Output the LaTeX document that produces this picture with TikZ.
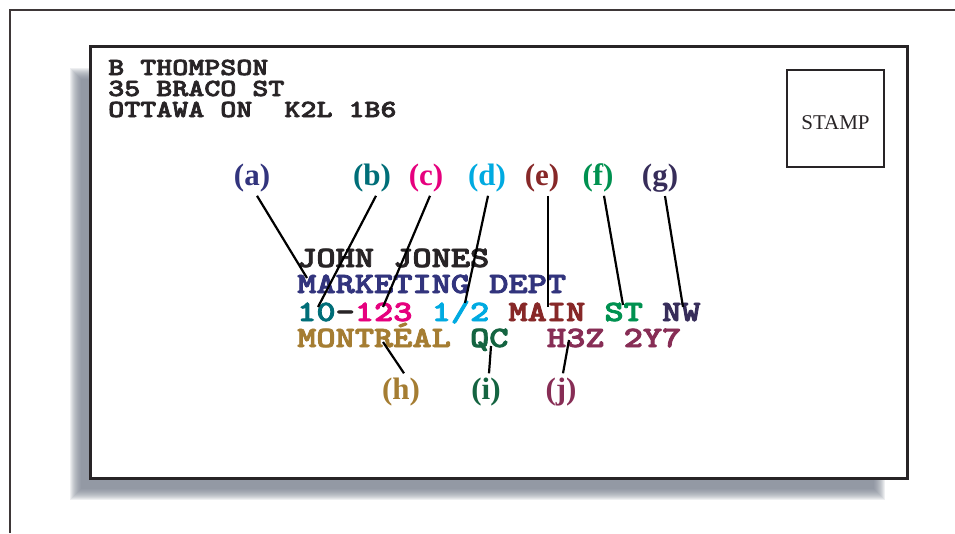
\documentclass[tikz,border=0pt]{standalone}
\usepackage{xcolor}
\usepackage{fontspec}
\setmainfont{Liberation Serif}
\newfontfamily\addrfont{lmmonolt10-bold}[Extension=.otf, FakeBold=2.5]
\usepackage{tikz}
\usetikzlibrary{positioning}

\definecolor{inkdark}{RGB}{40,36,38}
\definecolor{framegray}{RGB}{62,55,56}
\definecolor{shadowgray}{RGB}{118,126,140}
\definecolor{cA}{RGB}{50,52,125}
\definecolor{cB}{RGB}{0,110,120}
\definecolor{cC}{RGB}{230,0,126}
\definecolor{cD}{RGB}{0,170,225}
\definecolor{cE}{RGB}{135,40,40}
\definecolor{cF}{RGB}{0,145,80}
\definecolor{cG}{RGB}{55,45,90}
\definecolor{cH}{RGB}{165,125,50}
\definecolor{cI}{RGB}{20,100,65}
\definecolor{cJ}{RGB}{135,45,85}

\begin{document}
\begin{tikzpicture}[x=1pt, y=-1pt,
    frame/.style={draw=framegray, line width=2.5pt},
    envelope/.style={draw=inkdark, line width=3pt, fill=white},
    shade/.style={fill=shadowgray, opacity=0.12},
    stampbox/.style={draw=inkdark, line width=2pt, minimum width=97pt, minimum height=97pt, text height=22pt, text depth=0pt, text=inkdark, font=\fontsize{21}{21}\selectfont},
    retaddr/.style={anchor=base west, inner sep=0pt, xscale=1.24, text=inkdark, font=\addrfont\fontsize{24.6}{24.6}\selectfont},
    rcpt/.style={anchor=base west, inner sep=0pt, xscale=1.24, text=inkdark, font=\addrfont\fontsize{29.5}{29.5}\selectfont},
    tag/.style={anchor=base, inner sep=4pt, font=\bfseries\fontsize{31}{31}\selectfont},
    leader/.style={draw=black, line width=2.2pt}
]
    \useasboundingbox (0,0) rectangle (955,533);
    % page frame
    \draw[frame] (10,533) -- (10,10) -- (955,10);
    % soft shadow under the envelope
    \foreach \k in {0,...,11}
        \fill[shade] (70+\k,68+\k) rectangle (885-\k,500-\k);
    \draw[envelope] (90,46) rectangle (907,478);

    \node (stamp) [stampbox] at (835.5,118.5) {STAMP};

    % return address
    \node (ret1) [retaddr] at (108,75) {B THOMPSON};
    \node (ret2) [retaddr] at (108,96) {35 BRACO ST};
    \node (ret3) [retaddr] at (108,117) {OTTAWA ON\ \ K2L 1B6};

    % destination address
    \node (dest1) [rcpt] at (297,267) {JOHN JONES};
    \node (dest2) [rcpt, text=cA] at (297,293) {MARKETING DEPT};
    \node (dest3) [rcpt] at (297,321) {\textcolor{cB}{10}-\textcolor{cC}{123} \textcolor{cD}{1/2} \textcolor{cE}{MAIN} \textcolor{cF}{ST} \textcolor{cG}{NW}};
    \node (dest4) [rcpt] at (297,347) {\textcolor{cH}{MONTRÉAL} \textcolor{cI}{QC}\ \ \textcolor{cJ}{H3Z 2Y7}};

    % tags above
    \node (a) [tag, text=cA] at (252,185) {(a)};
    \node (b) [tag, text=cB] at (372,185) {(b)};
    \node (c) [tag, text=cC] at (426,185) {(c)};
    \node (d) [tag, text=cD] at (487,185) {(d)};
    \node (e) [tag, text=cE] at (542,185) {(e)};
    \node (f) [tag, text=cF] at (598,185) {(f)};
    \node (g) [tag, text=cG] at (660,185) {(g)};
    % tags below
    \node (h) [tag, text=cH] at (401,399) {(h)};
    \node (i) [tag, text=cI] at (486,399) {(i)};
    \node (j) [tag, text=cJ] at (561,399) {(j)};

    % points in the address
    \coordinate (pa) at (307,278);
    \coordinate (pb) at (318,307);
    \coordinate (pc) at (383,307);
    \coordinate (pd) at (465,303);
    \coordinate (pe) at (548,307);
    \coordinate (pf) at (623,305);
    \coordinate (pg) at (683,307);
    \coordinate (ph) at (383,342);
    \coordinate (pi) at (491,346);
    \coordinate (pj) at (569,340);

    \path [leader] ([xshift=5pt]a.south) -- (pa);
    \path [leader] ([xshift=4pt]b.south) -- (pb);
    \path [leader] ([xshift=4pt]c.south) -- (pc);
    \path [leader] ([xshift=1pt]d.south) -- (pd);
    \path [leader] ([xshift=6pt]e.south) -- (pe);
    \path [leader] ([xshift=6pt]f.south) -- (pf);
    \path [leader] ([xshift=5pt]g.south) -- (pg);
    \path [leader] (ph) -- ([xshift=3pt]h.north);
    \path [leader] (pi) -- ([xshift=3pt]i.north);
    \path [leader] (pj) -- ([xshift=2pt]j.north);
\end{tikzpicture}
\end{document}
